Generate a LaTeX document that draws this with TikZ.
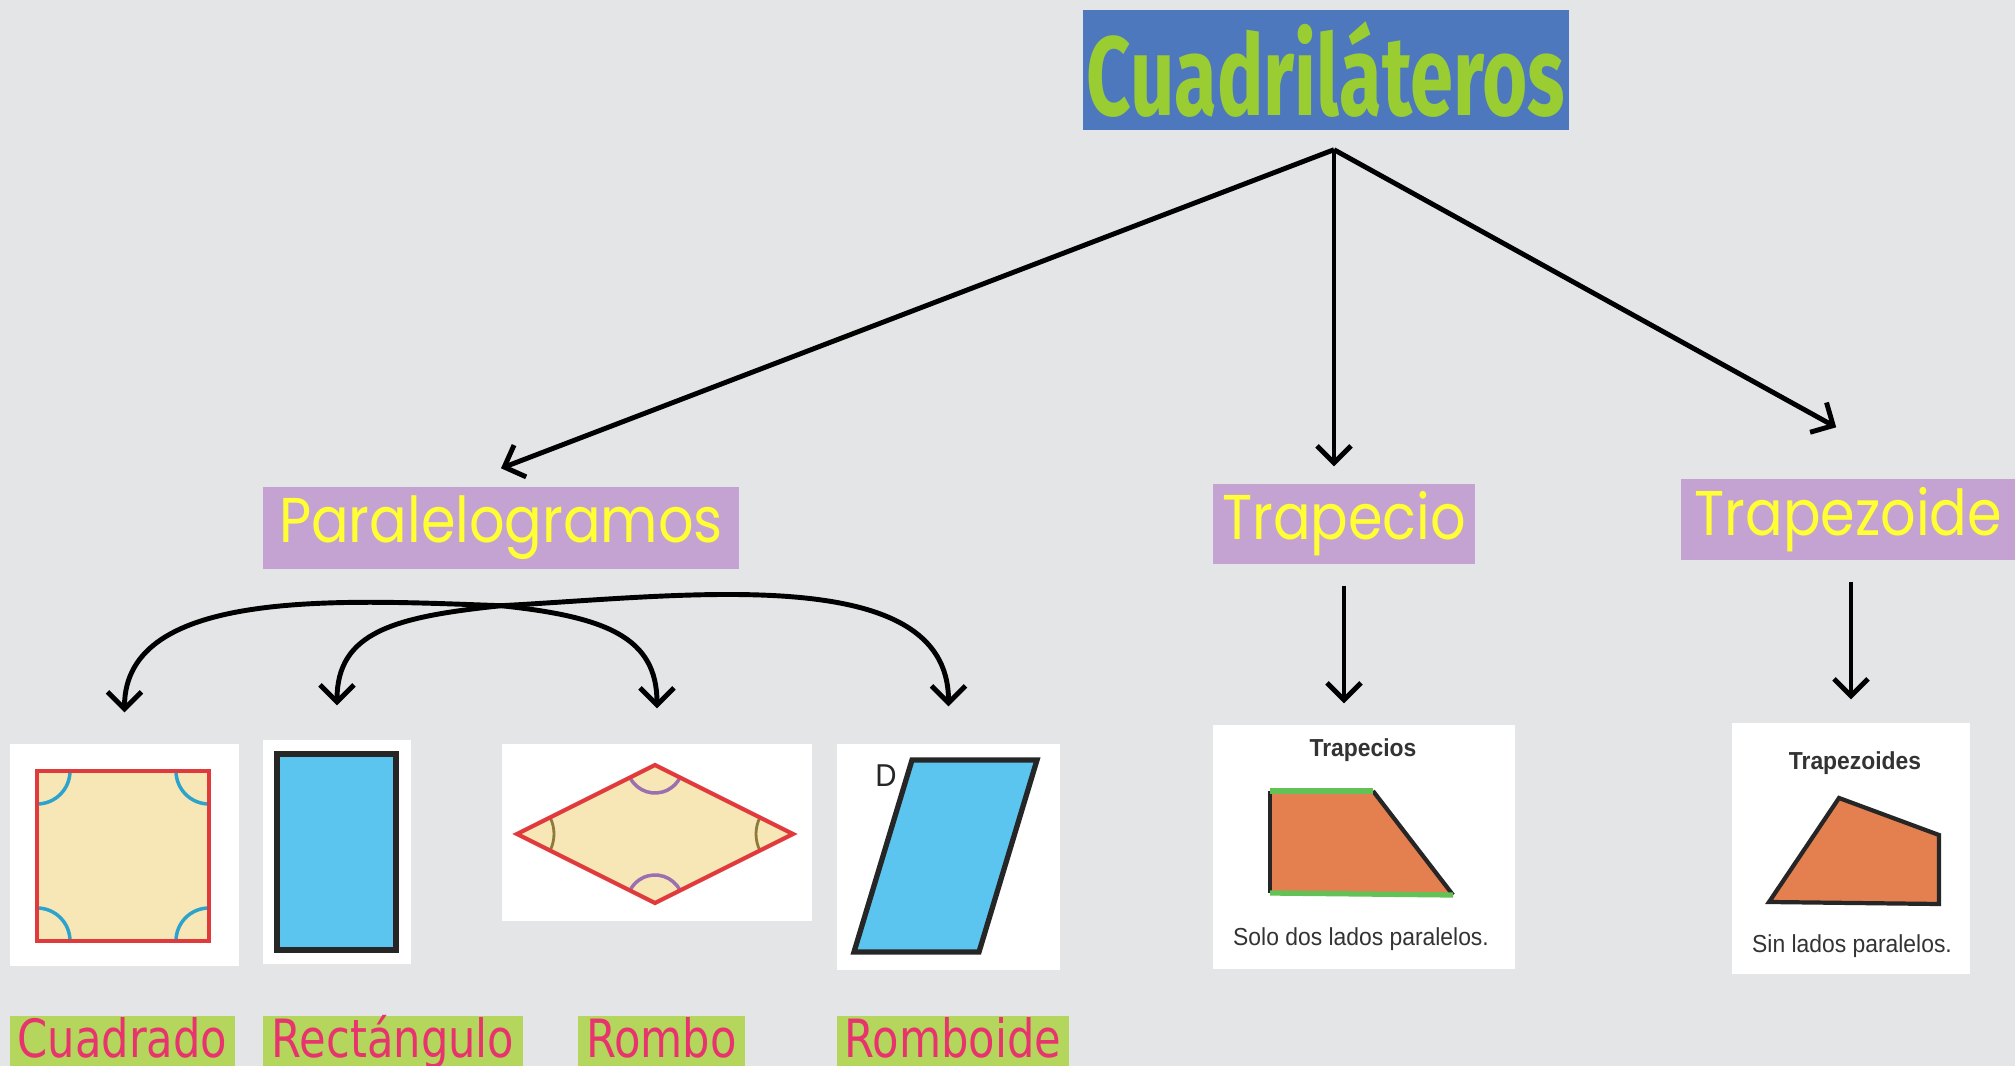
\documentclass[tikz,border=0pt]{standalone}
\usepackage{fontspec}
\usepackage{tikz}
\usetikzlibrary{arrows.meta,positioning,calc}
\usepackage{xcolor}
\newfontfamily\titlefont[FakeStretch=0.69]{Fira Sans}
\newfontfamily\catfont[FakeStretch=0.88]{Poppins}
\newfontfamily\labfont[FakeStretch=0.82]{DejaVu Sans}
\newfontfamily\imgfont[FakeStretch=0.93]{Liberation Sans}
\definecolor{bgc}{HTML}{E3E5E7}
\definecolor{titlec}{HTML}{4E78BE}
\definecolor{limec}{HTML}{9ACD32}
\definecolor{lilac}{HTML}{C4A2D2}
\definecolor{yellowc}{HTML}{FFFF33}
\definecolor{labgreen}{HTML}{B4D65C}
\definecolor{pinkc}{HTML}{E8336F}
\definecolor{creamc}{HTML}{F8E7B6}
\definecolor{redc}{HTML}{E03A3C}
\definecolor{tealc}{HTML}{2BA3CC}
\definecolor{skyc}{HTML}{5BC5EF}
\definecolor{orangec}{HTML}{E4804F}
\definecolor{grassc}{HTML}{62C255}
\definecolor{plumc}{HTML}{9B6FB0}
\definecolor{olivec}{HTML}{8C7B3B}
\tikzset{
  catbox/.style={fill=lilac, text=yellowc, inner sep=0pt,
    font=\catfont\fontsize{18}{20}\selectfont},
  namebox/.style={fill=labgreen, text=pinkc, inner xsep=0pt, inner ysep=0.07cm,
    text height=0.35cm, text depth=0.3cm, anchor=north,
    font=\labfont\fontsize{15}{17}\selectfont},
  card/.style={fill=white, inner sep=0pt},
  arr/.style={line width=1.4pt, -{Straight Barb[length=1.7mm,width=3.4mm]}},
  cardtxt/.style={text=black!80, font=\imgfont\fontsize{7}{8}\selectfont}
}

\begin{document}
\begin{tikzpicture}
  \useasboundingbox (0,0) rectangle (20.15,-10.66);
  \fill[bgc] (0,0) rectangle (20.15,-10.66);

  \node[fill=titlec, text=limec, inner sep=0pt, minimum width=4.86cm, minimum height=1.2cm,
    font=\titlefont\bfseries\fontsize{32}{36}\selectfont] (cuad) at (13.26,-0.70) {Cuadriláteros};

  \node[catbox, minimum width=4.76cm, minimum height=0.82cm] (par) at (5.01,-5.28) {Paralelogramos};
  \node[catbox, minimum width=2.62cm, minimum height=0.80cm] (trap) at (13.44,-5.24) {Trapecio};
  \node[catbox, minimum width=3.35cm, minimum height=0.81cm, anchor=west] (trapz) at (16.80,-5.195) {Trapezoide};

  \node[card, minimum width=2.29cm, minimum height=2.22cm] (cimg) at (1.245,-8.55) {};
  \node[card, minimum width=1.48cm, minimum height=2.24cm] (rimg) at (3.37,-8.52) {};
  \node[card, minimum width=3.10cm, minimum height=1.77cm] (himg) at (6.57,-8.325) {};
  \node[card, minimum width=2.23cm, minimum height=2.26cm] (dimg) at (9.485,-8.57) {};
  \node[card, minimum width=3.02cm, minimum height=2.44cm] (timg) at (13.64,-8.47) {};
  \node[card, minimum width=2.38cm, minimum height=2.51cm] (zimg) at (18.51,-8.485) {};

  \node[namebox, minimum width=2.25cm] (cname) at (1.225,-10.15) {Cuadrado};
  \node[namebox, minimum width=2.60cm] (rname) at (3.93,-10.15) {Rectángulo};
  \node[namebox, minimum width=1.67cm] (hname) at (6.615,-10.15) {Rombo};
  \node[namebox, minimum width=2.32cm] (dname) at (9.53,-10.15) {Romboide};

  % cuadrado
  \fill[creamc] (0.37,-7.71) rectangle (2.09,-9.41);
  \draw[tealc, line width=1pt] (0.37,-7.71) ++(0:0.33) arc[start angle=0, end angle=-90, radius=0.33];
  \draw[tealc, line width=1pt] (2.09,-7.71) ++(180:0.33) arc[start angle=180, end angle=270, radius=0.33];
  \draw[tealc, line width=1pt] (0.37,-9.41) ++(0:0.33) arc[start angle=0, end angle=90, radius=0.33];
  \draw[tealc, line width=1pt] (2.09,-9.41) ++(180:0.33) arc[start angle=180, end angle=90, radius=0.33];
  \draw[redc, line width=1.2pt] (0.37,-7.71) rectangle (2.09,-9.41);

  % rectangulo
  \draw[black!85, fill=skyc, line width=1.5pt] (2.77,-7.54) rectangle (3.96,-9.50);

  % rombo
  \fill[creamc] (5.17,-8.34) -- (6.55,-7.65) -- (7.93,-8.34) -- (6.55,-9.03) -- cycle;
  \draw[plumc, line width=1pt] (6.55,-7.65) ++(206.57:0.28) arc[start angle=206.57, end angle=333.43, radius=0.28];
  \draw[plumc, line width=1pt] (6.55,-9.03) ++(26.57:0.28) arc[start angle=26.57, end angle=153.43, radius=0.28];
  \draw[olivec, line width=0.8pt] (5.17,-8.34) ++(-26.57:0.37) arc[start angle=-26.57, end angle=26.57, radius=0.37];
  \draw[olivec, line width=0.8pt] (7.93,-8.34) ++(153.43:0.37) arc[start angle=153.43, end angle=206.57, radius=0.37];
  \draw[redc, line width=1.2pt, line join=miter] (5.17,-8.34) -- (6.55,-7.65) -- (7.93,-8.34) -- (6.55,-9.03) -- cycle;

  % romboide
  \draw[black!85, fill=skyc, line width=1.5pt] (9.12,-7.60) -- (10.37,-7.60) -- (9.79,-9.52) -- (8.54,-9.52) -- cycle;
  \node[text=black!85, font=\imgfont\fontsize{9}{10}\selectfont] (dlet) at (8.86,-7.76) {D};

  % trapecio
  \fill[orangec] (12.70,-7.91) -- (13.73,-7.91) -- (14.53,-8.95) -- (12.70,-8.93) -- cycle;
  \draw[black!85, line width=1.2pt] (13.73,-7.91) -- (14.53,-8.95);
  \draw[black!85, line width=1.2pt] (12.70,-7.91) -- (12.70,-8.93);
  \draw[grassc, line width=1.5pt] (12.70,-7.91) -- (13.73,-7.91);
  \draw[grassc, line width=1.5pt] (12.70,-8.93) -- (14.53,-8.95);
  \node[cardtxt, font=\imgfont\bfseries\fontsize{7}{8}\selectfont] (ttit) at (13.63,-7.50) {Trapecios};
  \node[cardtxt] (ttxt) at (13.61,-9.39) {Solo dos lados paralelos.};

  % trapezoide
  \draw[black!85, fill=orangec, line width=1.2pt, line join=miter] (18.39,-7.98) -- (19.39,-8.35) -- (19.39,-9.04) -- (17.69,-9.02) -- cycle;
  \node[cardtxt, font=\imgfont\bfseries\fontsize{7}{8}\selectfont] (ztit) at (18.55,-7.63) {Trapezoides};
  \node[cardtxt] (ztxt) at (18.52,-9.46) {Sin lados paralelos.};

  % flechas
  \coordinate (top) at ([xshift=0.8mm,yshift=-1.9mm]cuad.south);
  \draw[arr] (top) -- ([yshift=1.8mm]par.north);
  \draw[arr] (top) -- ([yshift=1.7mm]top |- trap.north);
  \draw[arr] (top) -- ([shift={(-0.12,0.51)}]trapz.north);

  \coordinate (pc) at ([yshift=-3.6mm]par.south);
  \draw[arr, shorten >=3.1mm] (pc) to[out=178, in=90] (cimg.north);
  \draw[arr, shorten >=3.4mm] (pc) to[out=186, in=90, looseness=1.3] (rimg.north);
  \draw[arr, shorten >=3.5mm] (pc) to[out=-6, in=90, looseness=1.3] (himg.north);
  \draw[arr, shorten >=3.7mm] (pc) to[out=3, in=90] (dimg.north);

  \draw[arr] ([yshift=-2.1mm]trap.south) -- ([yshift=2.1mm]trap.south |- timg.north);
  \draw[arr] ([yshift=-2.1mm]trapz.south -| zimg.north) -- ([yshift=2.3mm]zimg.north);
\end{tikzpicture}
\end{document}
